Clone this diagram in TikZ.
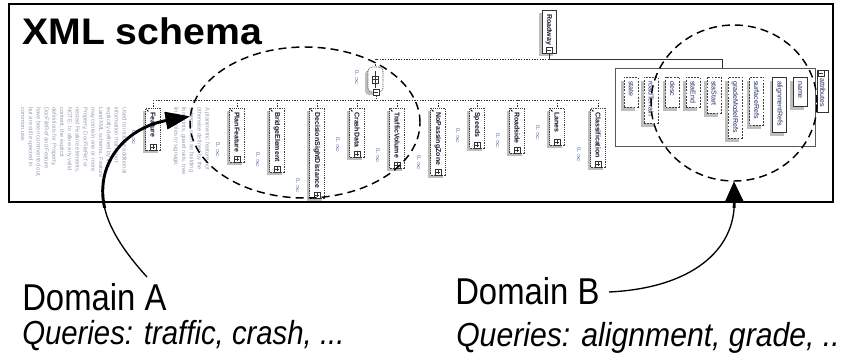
\documentclass[tikz,border=0pt]{standalone}
\usepackage{graphicx}
\usepackage{fontspec}
\setmainfont{Liberation Sans}
\usetikzlibrary{arrows.meta,shapes.geometric}
\definecolor{shad}{RGB}{190,190,190}
\definecolor{docgray}{RGB}{150,158,175}
\definecolor{occblue}{RGB}{70,100,170}
\definecolor{ename}{RGB}{20,20,45}
\definecolor{aname}{RGB}{30,40,95}
\tikzset{
  ebox/.style={draw=black!75, line width=0.5pt, dash pattern=on 0.7pt off 0.7pt, fill=white, inner sep=0pt, minimum width=11.25pt},
  abox/.style={ebox, dash pattern=on 1.4pt off 1pt},
  sbox/.style={draw=black!80, line width=0.6pt, fill=white, inner sep=0pt, minimum width=11.25pt},
  gbox/.style={draw=black!65, line width=0.6pt, fill=white, inner sep=0pt},
  compbox/.style={ebox, rounded corners=3pt, minimum width=11.25pt, minimum height=18.75pt},
  etext/.style={rotate=-90, anchor=west, inner sep=0pt, text=ename, font=\fontsize{5.25}{6}\selectfont\bfseries},
  atext/.style={rotate=-90, anchor=west, inner sep=0pt, text=aname, font=\fontsize{5.25}{6}\selectfont},
  occ/.style={rotate=-90, inner sep=0pt, text=occblue, font=\fontsize{4.1}{5}\selectfont},
  pbox/.style={draw=black!80, line width=0.4pt, fill=white, inner sep=0pt, minimum size=4.5pt,
    path picture={\draw[line width=0.35pt] ([xshift=-1.4pt]path picture bounding box.center) -- ([xshift=1.4pt]path picture bounding box.center)
      ([yshift=-1.4pt]path picture bounding box.center) -- ([yshift=1.4pt]path picture bounding box.center);}},
  mbox/.style={draw=black!80, line width=0.4pt, fill=white, inner sep=0pt, minimum size=4.5pt,
    path picture={\draw[line width=0.35pt] ([xshift=-1.4pt]path picture bounding box.center) -- ([xshift=1.4pt]path picture bounding box.center);}},
  bus/.style={draw=black!80, line width=0.5pt, dash pattern=on 1pt off 1pt},
  sline/.style={draw=black!80, line width=0.6pt},
  doc/.style={rotate=-90, anchor=north west, inner sep=0pt, align=left, text=docgray, font=\fontsize{4.35}{5.85}\selectfont},
  ell/.style={ellipse, draw=black, line width=1.1pt, dash pattern=on 6pt off 3.8pt, inner sep=0pt},
  frame/.style={draw=black, line width=2pt},
  title/.style={inner sep=0pt, font=\fontsize{27.75}{30}\selectfont\bfseries},
  domtxt/.style={inner sep=0pt, font=\fontsize{28}{30}\selectfont},
  qtxt/.style={inner sep=0pt, font=\fontsize{25}{28}\selectfont\itshape},
  thinc/.style={draw=black, line width=1pt},
  thickc/.style={draw=black, line width=2.2pt},
}
\newcommand{\xelem}[4]{%
  \fill[shad] ({#2-10.5},111) rectangle ({#2+4.5},{#3+3});
  \node[ebox, minimum height={(#3-108)*0.75pt}] (#1) at (#2,{(108+#3)/2}) {};
  \draw[line width=0.45pt, -{Latex[length=1.3pt,width=1.3pt]}] ({#2-6.5},109.5) -- ({#2-4.3},111.7);
  \node[etext] at (#2,112) {#4};
  \node[pbox] (#1p) at (#2,{#3-3}) {};
  \node[occ] at ({#2-19},{#3-12}) {0..$\infty$};
  \draw[bus] (#1.north |- busL) -- (#1.north);
}
\newcommand{\xattr}[5]{%
  \fill[shad] ({#2-10},81) rectangle ({#2+4},{#3+4});
  \node[#5, minimum width=10.5pt, minimum height={(#3-77)*0.75pt}] (#1) at (#2,{(77+#3)/2}) {};
  \node[atext] at (#2,81) {#4};
}
\begin{document}
\begin{tikzpicture}[x=0.75pt,y=-0.75pt]
\useasboundingbox (0,0) rectangle (841,358);

\node[title, anchor=base west] (title) at (22,44) {\scalebox{1.06}[1]{XML schema}};

% Roadway root
\fill[shad] (539,13) rectangle (553,56);
\node[sbox, minimum width=10.5pt, minimum height=32.25pt] (roadway) at (549,31.5) {};
\node[etext] at (549,14) {Roadway};
\node[mbox] (roadwayp) at (549,50.5) {};
\coordinate (rj) at (549,59);
\coordinate (gj) at (722,59);

% attribute group
\node[gbox, minimum width=150pt, minimum height=58.5pt] (grp) at (715,107) {};
\draw[sline] (roadwayp.south) -- (rj) -- (gj) -- (gj |- grp.north);
\node[sbox, minimum width=8.25pt, minimum height=31.5pt] (attrl) at (822.5,91) {};
\node[mbox] (attrlp) at (821,73.5) {};
\node[atext] at (822.5,78) {attributes};

\xattr{astate}{631}{107}{state}{abox}
\xattr{art}{651}{123}{roadTerrain}{abox}
\xattr{adesc}{672.5}{107}{desc}{abox}
\xattr{astaend}{693}{107}{staEnd}{abox}
\xattr{astastart}{714}{113}{staStart}{abox}
\xattr{agrade}{735}{138}{gradeModelRefs}{abox}
\xattr{asurf}{756.5}{125}{surfaceRefs}{abox}
\xattr{aalign}{779.5}{132}{alignmentRefs}{sbox}
\xattr{aname}{800}{106}{name}{sbox}

% sequence compositor
\fill[shad, rounded corners=3pt] (365,70) rectangle (380,95);
\node[compbox] (comp) at (375.5,79.5) {};
\draw[line width=0.5pt, black!80] (375.5,71) -- (375.5,88);
\draw[line width=0.45pt, black!80] (372.5,76) rectangle (378.5,83) (372.5,79.5) -- (378.5,79.5);
\node[mbox] (compp) at (376,92) {};
\node[occ] at (357,78) {0..$\infty$};
\draw[bus] (rj) -- (rj -| comp.north) -- (comp.north);

\coordinate (busL) at (153,100);
\coordinate (busR) at (598,100);
\draw[bus] (busL) -- (busR);
\draw[bus] (compp.south) -- (compp.south |- busL);

\xelem{feat}{153}{150}{Feature}
\xelem{plan}{237}{162}{PlanFeature}
\xelem{bridge}{277}{172}{BridgeElement}
\xelem{dsd}{317}{198}{DecisionSightDistance}
\xelem{crash}{357}{157}{CrashData}
\xelem{traffic}{397}{168}{TrafficVolume}
\xelem{npz}{438}{175}{NoPassingZone}
\xelem{speeds}{477}{148}{Speeds}
\xelem{roadside}{517}{153}{Roadside}
\xelem{lanes}{557}{145}{Lanes}
\xelem{classif}{598}{167}{Classification}

\node[doc] (doc1) at (127,107) {Used to include additional\\information that is not\\explicitly defined by the\\LandXML schema. Feature\\may contain one or more\\Property, DocFileRef or\\nested Feature elements.\\NOTE: to allow any valid\\content, the explicit\\definitions for Property,\\DocFileRef and Feature\\have been commented out,\\but are still expected in\\common use.};
\node[doc] (doc2) at (210,107) {A planimetric feature not\\otherwise defined by the\\schema, such as building\\footprints, guard rails, tree\\lines, poles or signage.};

% domain ellipses
\node[ell, minimum width=172.5pt, minimum height=113.25pt] (ellA) at (305,122.5) {};
\node[ell, minimum width=124.5pt, minimum height=117pt] (ellB) at (734,103) {};

\draw[frame] (9,4) rectangle (833,202);

% labels and arrows
\node[domtxt, anchor=base west] (domA) at (22,310) {\scalebox{0.88}[1]{Domain A}};
\node[qtxt, anchor=base west] (qA) at (22,344) {\scalebox{0.88}[1]{Queries: traffic, crash, ...}};
\node[domtxt, anchor=base west] (domB) at (455,304) {\scalebox{0.88}[1]{Domain B}};
\node[qtxt, anchor=base west] (qB) at (456,346) {\scalebox{0.905}[1]{Queries: alignment, grade, ..}};

\coordinate (aS) at (147,277);
\coordinate (bS) at (609,292);
\draw[thinc, -{Triangle[length=18pt,width=12.75pt]}] (aS) .. controls (118,245) and (100,215) .. (103,185) .. controls (106,150) and (135,126) .. (ellA.177);
\draw[thinc, -{Triangle[length=15pt,width=13.5pt]}] (bS) .. controls (692,288) and (735,250) .. (ellB.south);
\begin{scope}
\clip (9,4) rectangle (833,207);
\draw[thickc, -{Triangle[length=18pt,width=12.75pt]}] (aS) .. controls (118,245) and (100,215) .. (103,185) .. controls (106,150) and (135,126) .. (ellA.177);
\draw[thickc, -{Triangle[length=15pt,width=13.5pt]}] (bS) .. controls (692,288) and (735,250) .. (ellB.south);
\end{scope}
\end{tikzpicture}
\end{document}
